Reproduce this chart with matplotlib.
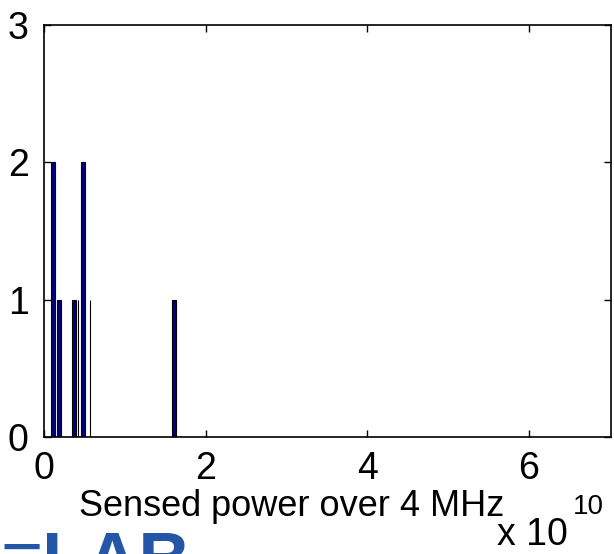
"""Histogram of sensed power, MATLAB style."""

import matplotlib
matplotlib.use("Agg")
import matplotlib.pyplot as plt
import numpy as np

plt.rcParams['font.family'] = ['Liberation Sans', 'DejaVu Sans']

# bar centres (units of 1e10) and counts
bar_centers = [0.108, 0.182, 0.367, 0.483, 1.609]
bar_counts = [2, 1, 1, 2, 1]
# very thin bars that render as single lines
thin_centers = [0.424, 0.573]
thin_counts = [1, 1]

x_ticks = [0, 2, 4, 6]
y_ticks = [0, 1, 2, 3]
x_label = "Sensed power over 4 MHz"


def plotHistogram():
    fig = plt.figure(figsize=(6.14, 5.54), dpi=100)
    ax = fig.add_axes([44 / 614, 117 / 554, 567 / 614, 412.3 / 554])
    ax.bar(bar_centers, bar_counts, width=0.05, color='#00007f',
           edgecolor='black', linewidth=0.8)
    ax.bar(thin_centers, thin_counts, width=0.004, color='white',
           edgecolor='black', linewidth=0.8)
    ax.set_xlim(0, 7.02)
    ax.set_ylim(0, 3)
    ax.set_xticks(x_ticks)
    ax.set_yticks(y_ticks)
    ax.tick_params(direction='in', length=5, width=1, top=True, right=True,
                   labelsize=27)
    ax.tick_params(axis='x', pad=10)
    ax.tick_params(axis='y', pad=11)
    for sp in ax.spines.values():
        sp.set_linewidth(1.2)
    fig.text(292 / 614, 1 - 507 / 554, x_label, ha='center', va='center',
             fontsize=26)
    fig.text(532 / 614, 1 - 535 / 554, "x 10", ha='center', va='center',
             fontsize=27)
    fig.text(588 / 614, 1 - 507 / 554, "10", ha='center', va='center',
             fontsize=20)
    # partial logo at the bottom edge
    fig.text(0.0, 1 - 530 / 554, "\u2261LAB", ha='left', va='top',
             fontsize=52, fontweight='bold', color='#2456a8')
    fig.savefig("out.png", dpi=100)


if __name__ == "__main__":
    plotHistogram()
